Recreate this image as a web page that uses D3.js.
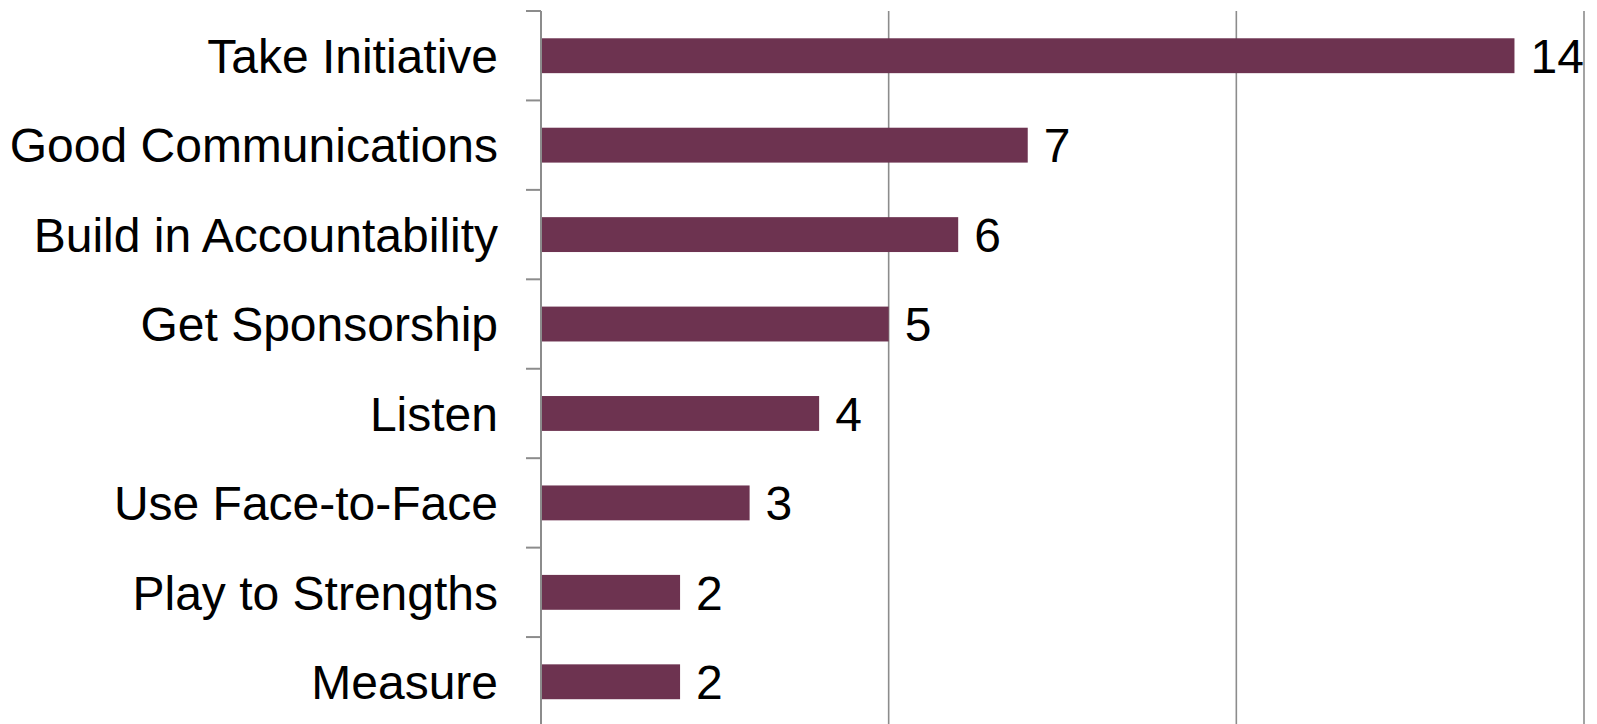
<!DOCTYPE html>
<html>
<head>
<meta charset="utf-8">
<script src="https://cdn.jsdelivr.net/npm/d3@7"></script>
<style>
  html, body { margin: 0; padding: 0; background: #ffffff; }
  svg { display: block; }
  text { font-family: "Liberation Sans", Arial, sans-serif; fill: #000; }
</style>
</head>
<body>
<svg id="chart" width="1597" height="724"></svg>
<script>
// Survey responses: ways to make change stick
const categories = [
  "Take Initiative",
  "Good Communications",
  "Build in Accountability",
  "Get Sponsorship",
  "Listen",
  "Use Face-to-Face",
  "Play to Strengths",
  "Measure"
];
const counts = [14, 7, 6, 5, 4, 3, 2, 2];
const gridValues = [5, 10, 15];

const width = 1597, height = 724;
const plotLeft = 541, plotRight = 1584;
const plotTop = 11, plotBottom = 726.5;
const barColor = "#6d3350";
const lineColor = "#8c8c8c";

const svg = d3.select("#chart");

const x = d3.scaleLinear().domain([0, 15]).range([plotLeft, plotRight]);
const y = d3.scaleBand().domain(categories).range([plotTop, plotBottom])
  .paddingInner(0.61).paddingOuter(0.305);

// vertical gridlines
svg.append("g")
  .selectAll("line")
  .data(gridValues)
  .join("line")
  .attr("x1", d => x(d)).attr("x2", d => x(d))
  .attr("y1", plotTop).attr("y2", height)
  .attr("stroke", lineColor)
  .attr("stroke-width", 1.6);

// bars
svg.append("g")
  .selectAll("rect")
  .data(categories)
  .join("rect")
  .attr("x", x(0))
  .attr("y", d => y(d))
  .attr("width", (d, i) => x(counts[i]) - x(0))
  .attr("height", y.bandwidth())
  .attr("fill", barColor);

// category axis with tick marks between bands
const step = y.step();
const boundaries = d3.range(categories.length + 1).map(i => plotTop + i * step);
const axisG = svg.append("g");
axisG.append("line")
  .attr("x1", plotLeft).attr("x2", plotLeft)
  .attr("y1", plotTop).attr("y2", height)
  .attr("stroke", lineColor).attr("stroke-width", 2);
axisG.selectAll("line.tick")
  .data(boundaries)
  .join("line")
  .attr("class", "tick")
  .attr("x1", plotLeft - 15).attr("x2", plotLeft)
  .attr("y1", d => d).attr("y2", d => d)
  .attr("stroke", lineColor).attr("stroke-width", 2);

const fontSize = 48;

// category labels
svg.append("g")
  .selectAll("text")
  .data(categories)
  .join("text")
  .attr("x", 498)
  .attr("y", d => y(d) + y.bandwidth() / 2 + fontSize * 0.36)
  .attr("text-anchor", "end")
  .attr("font-size", fontSize)
  .text(d => d);

// value labels
svg.append("g")
  .selectAll("text")
  .data(categories)
  .join("text")
  .attr("x", (d, i) => x(counts[i]) + 16)
  .attr("y", d => y(d) + y.bandwidth() / 2 + fontSize * 0.36)
  .attr("font-size", fontSize)
  .text((d, i) => counts[i]);
</script>
</body>
</html>
